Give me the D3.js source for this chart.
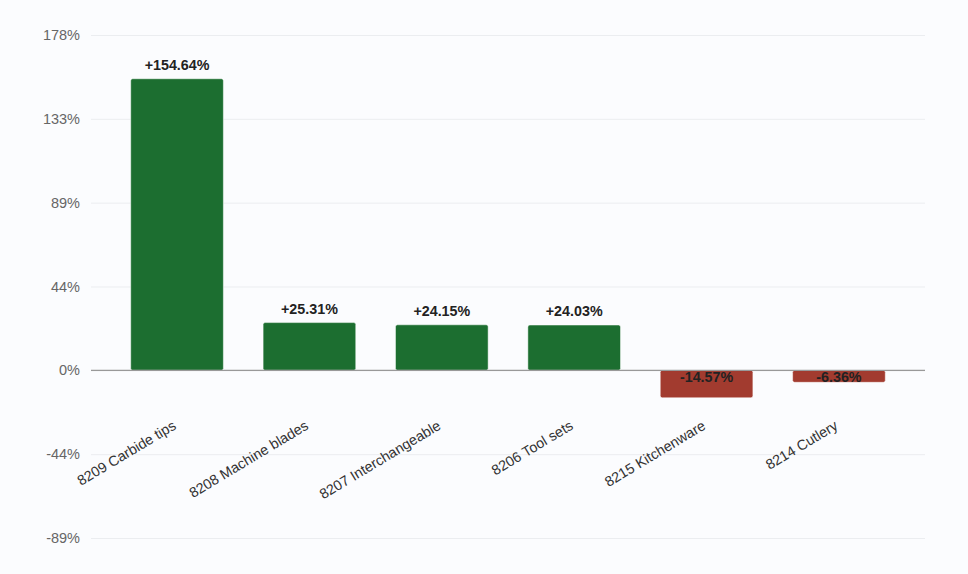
<!DOCTYPE html>
<html>
<head>
<meta charset="utf-8">
<script src="https://cdn.jsdelivr.net/npm/d3@7"></script>
<style>
  body { margin: 0; background: #fbfcfe; }
  svg { display: block; font-family: "Liberation Sans", Arial, sans-serif; }
</style>
</head>
<body>
<svg id="chart" width="968" height="574"></svg>
<script>
// Data
const categories = [
    "8209 Carbide tips", "8208 Machine blades", "8207 Interchangeable",
    "8206 Tool sets", "8215 Kitchenware", "8214 Cutlery"
];
const changes = [154.64, 25.31, 24.15, 24.03, -14.57, -6.36];
const valueLabels = ["+154.64%", "+25.31%", "+24.15%", "+24.03%", "-14.57%", "-6.36%"];
const tickLabels = ["-89%", "-44%", "0%", "44%", "89%", "133%", "178%"];

const width = 968;
const height = 574;
const margin = {top: 35, right: 43, bottom: 36, left: 91};

const svg = d3.select("#chart");

// y ticks are quarters of the top value
const step = d3.max(changes) * 1.15 / 4;
const tickValues = d3.range(-2, 5).map(k => k * step);

const x = d3.scaleBand()
    .domain(categories)
    .range([margin.left, width - margin.right])
    .paddingInner(0.3)
    .paddingOuter(0.3);

const y = d3.scaleLinear()
    .domain([-2 * step, 4 * step])
    .range([height - margin.bottom, margin.top]);

// Gridlines + y labels
const yAxis = d3.axisLeft(y)
    .tickValues(tickValues)
    .tickFormat((d, i) => tickLabels[i])
    .tickSize(-(width - margin.left - margin.right))
    .tickPadding(11);

const gy = svg.append("g")
    .attr("transform", `translate(${margin.left},0)`)
    .call(yAxis);
gy.select(".domain").remove();
gy.selectAll(".tick line").attr("stroke", "#ebedf0");
gy.selectAll(".tick text")
    .attr("fill", "#666")
    .attr("font-size", 14.5);

// Bars
svg.append("g").selectAll("rect")
    .data(changes)
    .enter()
    .append("rect")
    .attr("x", (d, i) => x(categories[i]))
    .attr("y", d => y(Math.max(0, d)))
    .attr("width", x.bandwidth())
    .attr("height", d => Math.abs(y(d) - y(0)))
    .attr("rx", 2)
    .attr("fill", d => d >= 0 ? "#1c6e30" : "#a23b2f")
    .attr("stroke", "rgba(255,255,255,0.5)")
    .attr("stroke-width", 1);

// Zero line
svg.append("line")
    .attr("x1", margin.left)
    .attr("x2", width - margin.right)
    .attr("y1", y(0))
    .attr("y2", y(0))
    .attr("stroke", "#999")
    .attr("stroke-width", 1.2);

// Value labels
svg.append("g").selectAll("text")
    .data(changes)
    .enter()
    .append("text")
    .attr("x", (d, i) => x(categories[i]) + x.bandwidth() / 2)
    .attr("y", d => d >= 0 ? y(d) - 9 : y(0) + 12)
    .attr("text-anchor", "middle")
    .attr("font-size", 14.3)
    .attr("font-weight", "bold")
    .attr("fill", "#222")
    .text((d, i) => valueLabels[i]);

// Category labels, rotated
svg.append("g").selectAll("text")
    .data(categories)
    .enter()
    .append("text")
    .attr("transform", d => `translate(${x(d) + x.bandwidth() / 2},${y(0) + 58}) rotate(-31)`)
    .attr("text-anchor", "end")
    .attr("font-size", 14.3)
    .attr("fill", "#333")
    .text(d => d);
</script>
</body>
</html>
